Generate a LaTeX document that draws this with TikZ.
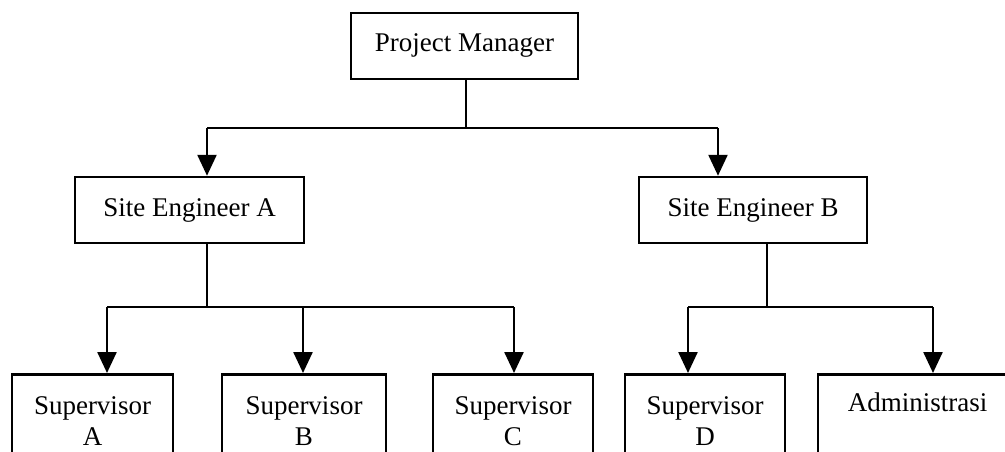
\documentclass[tikz,border=0pt]{standalone}
\usepackage{fontspec}
\setmainfont{Liberation Serif}
\usetikzlibrary{arrows.meta}
\begin{document}
\begin{tikzpicture}[x=1pt,y=-1pt,
  line width=2.5pt,
  tbox/.style={draw, line width=2.5pt, minimum height=66pt, inner sep=0pt,
    text height=18pt, text depth=6pt, font=\fontsize{27}{31}\selectfont},
  bbox/.style={draw, line width=2.5pt, anchor=north, inner xsep=0pt, inner ysep=20pt,
    text height=51pt, text depth=90pt, align=center, font=\fontsize{27}{31}\selectfont},
  arr/.style={-{Triangle[width=19pt,length=21pt]}}]
\useasboundingbox (0,0) rectangle (1005,452);
\clip (0,0) rectangle (1005,452);
% top level
\node[tbox, minimum width=227pt] (pm) at (464.5,46) {Project Manager};
\node[tbox, minimum width=229pt] (sea) at (189.5,210) {Site Engineer A};
\node[tbox, minimum width=228pt] (seb) at (753,210) {Site Engineer B};
% bottom level
\node[bbox, minimum width=161pt] (sa) at (92.5,373) {Supervisor\\A};
\node[bbox, minimum width=164pt] (sb) at (304,373) {Supervisor\\B};
\node[bbox, minimum width=160pt] (sc) at (513,373) {Supervisor\\C};
\node[bbox, minimum width=160pt] (sd) at (705,373) {Supervisor\\D};
\node[bbox, minimum width=199pt, text height=17pt] (ad) at (917.5,373) {Administrasi};
% junctions
\coordinate (j1) at (466,128);
\coordinate (ta) at (207,128);
\coordinate (tb) at (718,128);
\coordinate (j2) at (207,307);
\coordinate (ca) at (107,307);
\coordinate (cb) at (303,307);
\coordinate (cc) at (514,307);
\coordinate (j3) at (767,307);
\coordinate (cd) at (688,307);
\coordinate (ce) at (933,307);
% connectors from PM
\draw (pm.south -| j1) -- (j1);
\draw (ta) -- (tb);
\draw[arr] (ta) -- (ta |- sea.north);
\draw[arr] (tb) -- (tb |- seb.north);
% connectors from SE A
\draw (sea.south -| j2) -- (j2);
\draw (ca) -- (cc);
\draw[arr] (ca) -- (ca |- sa.north);
\draw[arr] (cb) -- (cb |- sb.north);
\draw[arr] (cc) -- (cc |- sc.north);
% connectors from SE B
\draw (seb.south -| j3) -- (j3);
\draw (cd) -- (ce);
\draw[arr] (cd) -- (cd |- sd.north);
\draw[arr] (ce) -- (ce |- ad.north);
\end{tikzpicture}
\end{document}
